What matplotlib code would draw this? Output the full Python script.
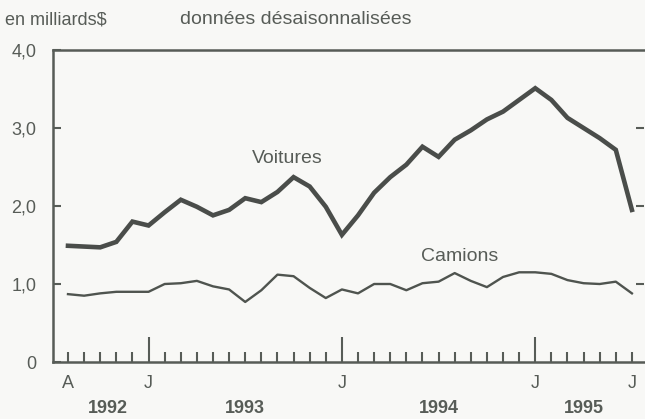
import matplotlib.pyplot as plt
from matplotlib import transforms

plt.rcParams['font.family'] = ['Liberation Sans', 'DejaVu Sans']

# mois d'août 1992 à juillet 1995
months = list(range(36))
voitures = [1.49, 1.48, 1.47, 1.54, 1.80, 1.75, 1.92, 2.08, 1.99, 1.88,
            1.95, 2.10, 2.05, 2.18, 2.37, 2.25, 1.99, 1.63, 1.88, 2.17,
            2.37, 2.53, 2.76, 2.63, 2.85, 2.97, 3.11, 3.21, 3.36, 3.51,
            3.36, 3.13, 3.00, 2.87, 2.72, 1.95]
camions = [0.87, 0.85, 0.88, 0.90, 0.90, 0.90, 1.00, 1.01, 1.04, 0.97,
           0.93, 0.77, 0.92, 1.12, 1.10, 0.95, 0.82, 0.93, 0.88, 1.00,
           1.00, 0.92, 1.01, 1.03, 1.14, 1.04, 0.96, 1.09, 1.15, 1.15,
           1.13, 1.05, 1.01, 1.00, 1.03, 0.88]
month_pos = [0, 5, 17, 29, 35]
month_lbl = ['A', 'J', 'J', 'J', 'J']
year_pos = [2.5, 11, 23, 32]
year_lbl = ['1992', '1993', '1994', '1995']
y_ticks = [0, 1, 2, 3, 4]
y_lbl = ['0', '1,0', '2,0', '3,0', '4,0']

grey = '#575c57'
bg = '#f8f8f6'

fig = plt.figure(figsize=(6.45, 4.19), dpi=100, facecolor=bg)
ax = fig.add_axes([53 / 645, 57 / 419, 591 / 645, 312 / 419])
ax.set_facecolor(bg)

ax.plot(months, voitures, color='#4a4d4a', lw=3.3, solid_joinstyle='miter')
ax.plot(months, camions, color='#4f544f', lw=1.7)

ax.set_xlim(-0.93, 35.75)
ax.set_ylim(0, 4)

for side in ['left', 'top', 'bottom']:
    ax.spines[side].set_color(grey)
    ax.spines[side].set_linewidth(1.8)
ax.spines['right'].set_visible(False)

# graduations
ax.set_yticks(y_ticks)
ax.set_yticklabels(y_lbl, fontsize=13, color=grey)
ax.tick_params(axis='y', which='major', direction='in', length=6, width=1.5,
               color=grey, right=True, pad=12)
for i in (0, 4):
    ax.yaxis.get_major_ticks()[i].tick2line.set_visible(False)
ax.set_xticks([5, 17, 29])
ax.set_xticklabels([])
ax.set_xticks(months, minor=True)
ax.tick_params(axis='x', which='major', direction='in', length=18,
               width=1.5, color=grey)
ax.tick_params(axis='x', which='minor', direction='in', length=7,
               width=1.5, color=grey)

trans = transforms.blended_transform_factory(ax.transData, fig.transFigure)
for p, l in zip(month_pos, month_lbl):
    ax.text(p, 1 - 383 / 419, l, transform=trans, ha='center', va='center',
            fontsize=13, color=grey)
for p, l in zip(year_pos, year_lbl):
    ax.text(p, 1 - 408 / 419, l, transform=trans, ha='center', va='center',
            fontsize=13, color=grey, fontweight='bold')

ax.text(13.6, 2.61, 'Voitures', ha='center', va='center', fontsize=14,
        color=grey)
ax.text(24.3, 1.35, 'Camions', ha='center', va='center', fontsize=14,
        color=grey)

fig.text(5 / 645, 1 - 20 / 419, 'en milliards$', ha='left', va='center',
         fontsize=13, color=grey)
fig.text(180 / 645, 1 - 20 / 419, 'données désaisonnalisées', ha='left',
         va='center', fontsize=14, color=grey)

fig.savefig('out.png', dpi=100, facecolor=bg)
